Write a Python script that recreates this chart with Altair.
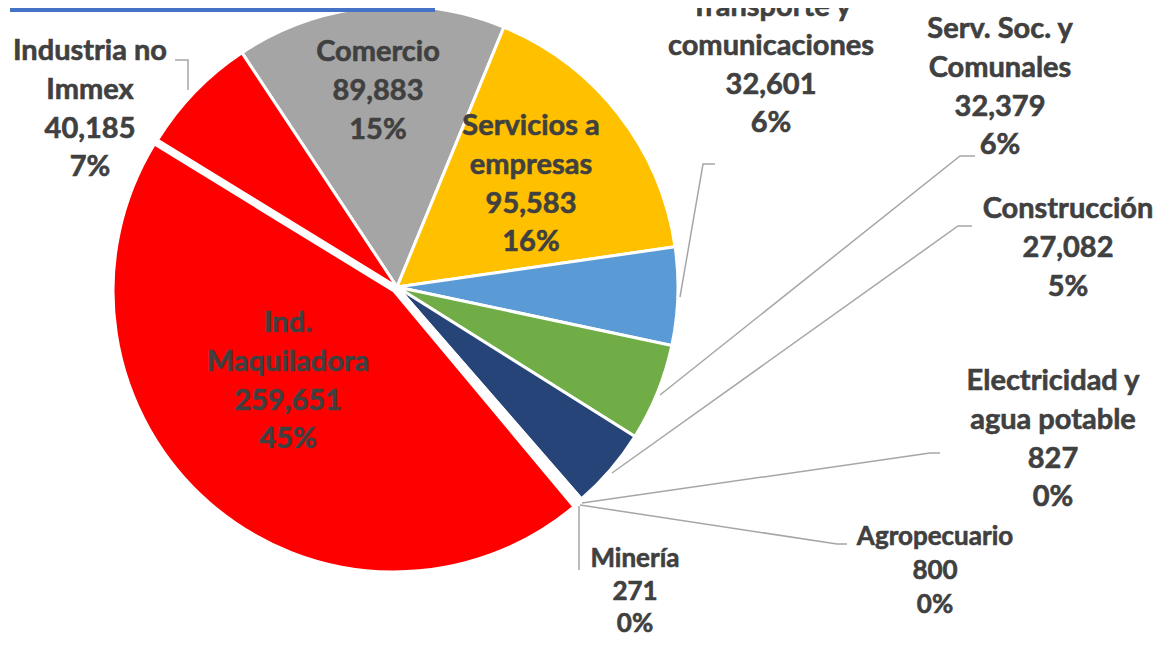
import math
import altair as alt
import pandas as pd

# ---- data ----
sectors = ["Comercio", "Servicios a empresas", "Transporte y comunicaciones",
           "Serv. Soc. y Comunales", "Construcción", "Electricidad y agua potable",
           "Agropecuario", "Minería", "Ind. Maquiladora", "Industria no Immex"]
values = [89883, 95583, 32601, 32379, 27082, 827, 800, 271, 259651, 40185]
percents = [15, 16, 6, 6, 5, 0, 0, 0, 45, 7]
name_lines = ["Comercio", "Servicios a\nempresas", "Transporte y\ncomunicaciones",
              "Serv. Soc. y\nComunales", "Construcción", "Electricidad y\nagua potable",
              "Agropecuario", "Minería", "Ind.\nMaquiladora", "Industria no\nImmex"]
colors = ["#A5A5A5", "#FFC000", "#5B9BD5", "#70AD47", "#264478",
          "#9E480E", "#636363", "#997300", "#FF0000", "#FF0000"]

# ---- layout (page pixels) ----
OFF = 8  # page margin
cx, cy, R = 397 - OFF, 287 - OFF, 281
start = math.radians(326.5)
explode_dx, explode_dy = -3, 4
label_x = [378, 531, 771, 1000, 1068, 1053, 935, 635, 288, 90]
label_y = [61, 135, 16, 38, 218, 390, 545, 567, 332, 60]
label_size = [29, 29, 29, 29, 29, 29, 26, 26, 29, 29]
label_lh = [38.8, 38.8, 38.8, 38.8, 38.8, 38.8, 34.0, 32.5, 38.8, 38.8]
leaders = {
    "Industria no Immex": [(175, 60), (188, 60), (188, 90)],
    "Transporte y comunicaciones": [(715, 164), (703, 164), (680, 297)],
    "Serv. Soc. y Comunales": [(975, 156), (960, 156), (660, 395)],
    "Construcción": [(972, 226), (958, 226), (612, 473)],
    "Electricidad y agua potable": [(940, 453), (930, 453), (582, 503)],
    "Agropecuario": [(847, 544), (837, 544), (580, 505)],
    "Minería": [(579, 570), (579, 506)],
}

df = pd.DataFrame({"sector": sectors, "value": values, "idx": list(range(len(sectors)))})

theta = alt.Theta("value:Q", stack=True,
                  scale=alt.Scale(range=[start, start + 2 * math.pi]))
color = alt.Color("sector:N", scale=alt.Scale(domain=sectors, range=colors), legend=None)

base = alt.Chart(df).mark_arc(outerRadius=R, stroke="white", strokeWidth=3)

pie_main = base.encode(
    theta=theta, color=color, order=alt.Order("idx:Q"),
    x=alt.value(cx), y=alt.value(cy),
    opacity=alt.condition(alt.datum.sector == "Ind. Maquiladora", alt.value(0), alt.value(1)),
)
pie_explode = base.encode(
    theta=theta, color=color, order=alt.Order("idx:Q"),
    x=alt.value(cx + explode_dx), y=alt.value(cy + explode_dy),
    opacity=alt.condition(alt.datum.sector == "Ind. Maquiladora", alt.value(1), alt.value(0)),
)

rows = []
for name, pts in leaders.items():
    for k, (px, py) in enumerate(pts):
        rows.append({"id": name, "k": k, "px": px - OFF, "py": py - OFF})
lines = alt.Chart(pd.DataFrame(rows)).mark_line(color="#A6A6A6", strokeWidth=1.5).encode(
    x=alt.X("px:Q", scale=None, axis=None),
    y=alt.Y("py:Q", scale=None, axis=None),
    detail="id:N", order="k:Q",
)

lab = pd.DataFrame({
    "txt": [f"{n}\n{v:,}\n{p}%" for n, v, p in zip(name_lines, values, percents)],
    "lx": [v - OFF for v in label_x],
    "ly": [v - OFF for v in label_y],
    "size": label_size,
    "lh": label_lh,
})

def text_layer(d, size, lh):
    return alt.Chart(d).mark_text(
        font="Lato", fontWeight="bold", fontSize=size, color="#404040",
        stroke="#404040", strokeWidth=0.6,
        align="center", baseline="alphabetic", lineBreak="\n", lineHeight=lh,
    ).encode(
        x=alt.X("lx:Q", scale=None, axis=None),
        y=alt.Y("ly:Q", scale=None, axis=None),
        text="txt:N",
    )

text_layers = [text_layer(lab[lab["lh"] == h], s, h)
               for s, h in sorted(set(zip(label_size, label_lh)))]

bar = alt.Chart(pd.DataFrame({"a": [0]})).mark_rule(color="#4472C4", strokeWidth=4).encode(
    x=alt.value(10 - OFF), x2=alt.value(435 - OFF), y=alt.value(2)
)

chart = alt.layer(pie_main, pie_explode, lines, *text_layers, bar).properties(
    width=1148, height=629, padding=0, autosize="none"
).configure_view(stroke=None)

chart.save("out.html", embed_options={"renderer": "svg", "actions": False})
